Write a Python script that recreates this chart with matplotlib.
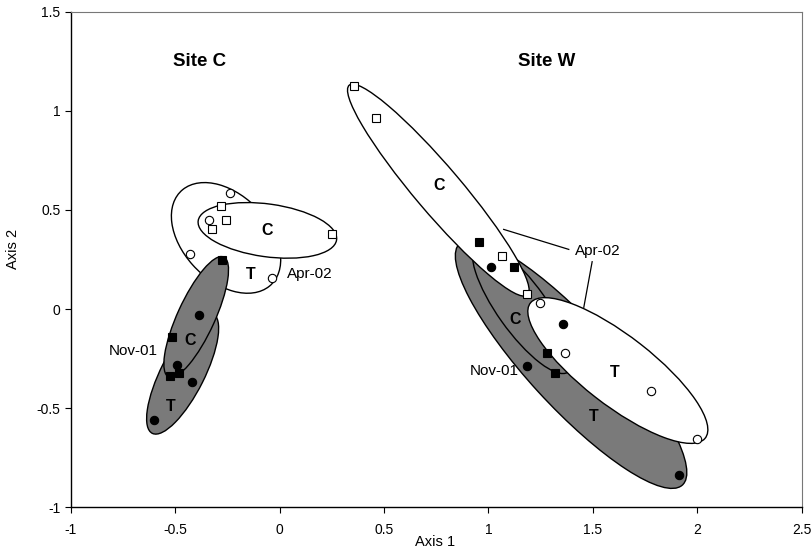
import numpy as np
import matplotlib
matplotlib.use("Agg")
import matplotlib.pyplot as plt
from matplotlib.patches import Ellipse

plt.rcParams['font.family'] = ['Liberation Sans', 'DejaVu Sans']
plt.rcParams['axes.unicode_minus'] = False

# ordination scores (Axis 1, Axis 2)
# Site C
c_apr_ctrl_x = [-0.28, -0.257, -0.322, 0.25]          # open squares
c_apr_ctrl_y = [0.52, 0.449, 0.405, 0.377]
c_apr_trt_x = [-0.239, -0.34, -0.43, -0.038]          # open circles
c_apr_trt_y = [0.584, 0.448, 0.28, 0.156]
c_nov_ctrl_x = [-0.274, -0.515, -0.525, -0.482]       # filled squares
c_nov_ctrl_y = [0.249, -0.141, -0.339, -0.324]
c_nov_trt_x = [-0.386, -0.493, -0.421, -0.6]          # filled circles
c_nov_trt_y = [-0.032, -0.28, -0.37, -0.561]

# Site W
w_apr_ctrl_x = [0.354, 0.463, 1.065, 1.183]
w_apr_ctrl_y = [1.123, 0.965, 0.266, 0.075]
w_apr_trt_x = [1.247, 1.367, 1.778, 2.0]
w_apr_trt_y = [0.032, -0.222, -0.412, -0.655]
w_nov_ctrl_x = [0.957, 1.124, 1.282, 1.319]
w_nov_ctrl_y = [0.338, 0.212, -0.222, -0.324]
w_nov_trt_x = [1.01, 1.356, 1.183, 1.914]
w_nov_trt_y = [0.214, -0.073, -0.288, -0.836]

# group ellipses: centre x, centre y, width, height, angle, shaded
ell_centre_x = [-0.257, -0.059, -0.465, -0.40, 1.396, 1.163, 0.76, 1.62]
ell_centre_y = [0.359, 0.397, -0.325, -0.04, -0.278, 0.005, 0.60, -0.31]
ell_width = [0.64, 0.67, 0.67, 0.66, 1.62, 0.78, 1.36, 1.08]
ell_height = [0.42, 0.266, 0.21, 0.18, 0.42, 0.24, 0.226, 0.344]
ell_angle = [-49.6, -8.4, 64.5, 66.6, -49.0, -56, -51.2, -39.4]
ell_shaded = [False, False, True, True, True, True, False, False]

# group letters inside ellipses
letters = ["C", "T", "C", "T", "C", "C", "T", "T"]
letter_x = [-0.06, -0.137, -0.428, -0.524, 0.765, 1.129, 1.606, 1.505]
letter_y = [0.394, 0.172, -0.156, -0.489, 0.621, -0.055, -0.319, -0.543]

fig = plt.figure(figsize=(8.11, 5.5), dpi=100)
ax = fig.add_axes([0.0875, 0.0776, 0.9008, 0.9011])

grey = '#7a7a7a'
for i in range(len(ell_centre_x)):
    e = Ellipse((ell_centre_x[i], ell_centre_y[i]), ell_width[i], ell_height[i],
                angle=ell_angle[i], facecolor=grey if ell_shaded[i] else 'white',
                edgecolor='black', linewidth=1.0, zorder=2 + i * 0.1)
    ax.add_patch(e)

mk = dict(linestyle='none', markeredgecolor='black', markeredgewidth=0.8, zorder=5)
for xs, ys in [(c_apr_ctrl_x, c_apr_ctrl_y), (w_apr_ctrl_x, w_apr_ctrl_y)]:
    ax.plot(xs, ys, 's', markersize=5.5, markerfacecolor='white', **mk)
for xs, ys in [(c_apr_trt_x, c_apr_trt_y), (w_apr_trt_x, w_apr_trt_y)]:
    ax.plot(xs, ys, 'o', markersize=6, markerfacecolor='white', **mk)
for xs, ys in [(c_nov_ctrl_x, c_nov_ctrl_y), (w_nov_ctrl_x, w_nov_ctrl_y)]:
    ax.plot(xs, ys, 's', markersize=5.5, markerfacecolor='black', **mk)
for xs, ys in [(c_nov_trt_x, c_nov_trt_y), (w_nov_trt_x, w_nov_trt_y)]:
    ax.plot(xs, ys, 'o', markersize=6, markerfacecolor='black', **mk)

for s, x, y in zip(letters, letter_x, letter_y):
    ax.text(x, y, s, fontsize=11.5, fontweight='bold', ha='center', va='center', zorder=6)

ax.text(-0.385, 1.247, "Site C", fontsize=13.5, fontweight='bold', ha='center', va='center')
ax.text(1.278, 1.247, "Site W", fontsize=13.5, fontweight='bold', ha='center', va='center')

ax.text(-0.70, -0.21, "Nov-01", fontsize=11, ha='center', va='center', zorder=6)
ax.text(0.035, 0.175, "Apr-02", fontsize=11, ha='left', va='center', zorder=6)
ax.text(1.026, -0.312, "Nov-01", fontsize=11, ha='center', va='center', zorder=6)
ax.text(1.522, 0.295, "Apr-02", fontsize=11, ha='center', va='center', zorder=6)
ax.plot([1.073, 1.385], [0.402, 0.301], color='black', lw=0.9, zorder=6)
ax.plot([1.497, 1.457], [0.239, 0.009], color='black', lw=0.9, zorder=6)

ax.set_xlim(-1, 2.5)
ax.set_ylim(-1, 1.5)
ax.set_xticks([-1, -0.5, 0, 0.5, 1, 1.5, 2, 2.5])
ax.set_xticklabels(["-1", "-0.5", "0", "0.5", "1", "1.5", "2", "2.5"])
ax.set_yticks([-1, -0.5, 0, 0.5, 1, 1.5])
ax.set_yticklabels(["-1", "-0.5", "0", "0.5", "1", "1.5"])
ax.tick_params(direction='out', length=4.5, width=0.8, labelsize=10)
ax.tick_params(axis='x', pad=7)
ax.tick_params(axis='y', pad=3)
ax.set_xlabel("Axis 1", fontsize=10.5)
ax.set_ylabel("Axis 2", fontsize=10.5)
ax.xaxis.set_label_coords(0.498, -0.055)
ax.yaxis.set_label_coords(-0.07, 0.522)
for side in ['top', 'right']:
    ax.spines[side].set_color('#777777')
    ax.spines[side].set_linewidth(0.8)
for side in ['left', 'bottom']:
    ax.spines[side].set_linewidth(1.0)

fig.savefig("out.png", dpi=100)
